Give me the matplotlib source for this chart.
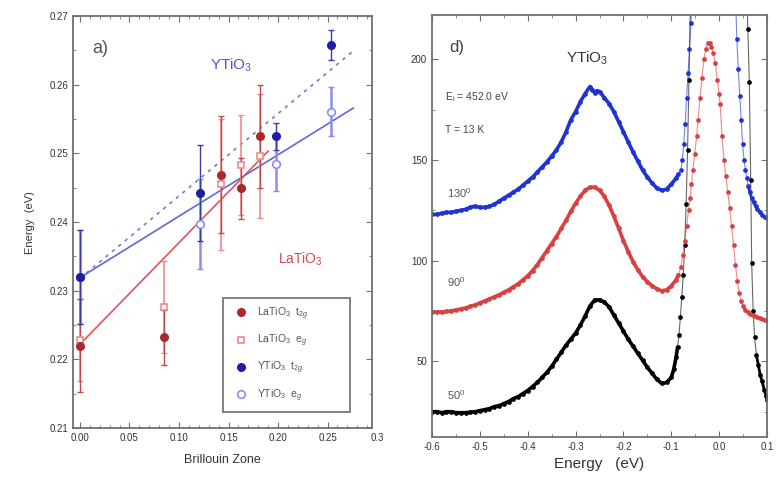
import numpy as np
import matplotlib.pyplot as plt
from matplotlib.ticker import MultipleLocator
from matplotlib.lines import Line2D

plt.rcParams['font.family'] = ['Liberation Sans', 'DejaVu Sans']
plt.rcParams['mathtext.fontset'] = 'custom'
plt.rcParams['mathtext.rm'] = 'Liberation Sans'
plt.rcParams['mathtext.it'] = 'Liberation Sans:italic'

# ---- a) dispersion vs Brillouin zone ----
la_x = [0.0, 0.085, 0.142, 0.163, 0.182]
la_t2g = [0.2220, 0.2232, 0.2469, 0.2449, 0.2525]
la_t2g_err = [0.0068, 0.0040, 0.0085, 0.0045, 0.0075]
la_eg = [0.2228, 0.2276, 0.2455, 0.2483, 0.2496]
la_eg_err = [0.0060, 0.0067, 0.0095, 0.0073, 0.0090]

y_x = [0.0, 0.121, 0.198, 0.2535]
y_t2g = [0.2320, 0.2442, 0.2525, 0.2658]
y_t2g_err = [0.0068, 0.0070, 0.0020, 0.0022]
y_eg = [0.2320, 0.2397, 0.2485, 0.2561]
y_eg_err = [0.0068, 0.0065, 0.0040, 0.0035]

# linear fits (x range, intercept, slope)
la_fit = (0.0, 0.19, 0.2222, 0.148)
y_eg_fit = (0.0, 0.276, 0.2319, 0.0895)
y_t2g_fit = (0.0, 0.276, 0.2318, 0.120)

# ---- d) RIXS spectra ----
e_50 = [-0.60, -0.59, -0.58, -0.57, -0.56, -0.55, -0.54, -0.53, -0.52, -0.51,
        -0.50, -0.49, -0.48, -0.47, -0.46, -0.45, -0.44, -0.43, -0.42, -0.41,
        -0.40, -0.39, -0.38, -0.37, -0.36, -0.35, -0.34, -0.33, -0.32, -0.31,
        -0.30, -0.29, -0.28, -0.27, -0.26, -0.25, -0.24, -0.23, -0.22, -0.21,
        -0.20, -0.19, -0.18, -0.17, -0.16, -0.15, -0.14, -0.13, -0.12, -0.11,
        -0.10, -0.095, -0.09, -0.087, -0.084, -0.081, -0.078, -0.075, -0.072,
        -0.069, -0.066, -0.063, -0.060,
        0.057, 0.060, 0.063, 0.066, 0.068, 0.071, 0.074, 0.078, 0.082, 0.086,
        0.090, 0.094, 0.098, 0.100]
i_50 = [25, 25, 24.5, 25, 25, 24.5, 24.5, 24.5, 24.7, 25,
        25.5, 26, 26.5, 27.5, 28, 29, 30, 31.5, 32.5, 34,
        35.5, 37.5, 39.5, 42, 44.5, 47.5, 51, 54.5, 58, 61,
        64, 68, 72.5, 77.5, 80.5, 80.5, 79.5, 77, 73, 69,
        65, 61, 57.5, 54, 50.5, 47, 44, 41, 39, 39.5,
        42, 46, 52, 57, 63, 72, 82, 93, 108,
        128, 155, 190, 230,
        240, 215, 189, 140, 99, 75, 62, 53, 48, 43,
        40, 36, 33, 31]

e_90 = [-0.60, -0.59, -0.58, -0.57, -0.56, -0.55, -0.54, -0.53, -0.52, -0.51,
        -0.50, -0.49, -0.48, -0.47, -0.46, -0.45, -0.44, -0.43, -0.42, -0.41,
        -0.40, -0.39, -0.38, -0.37, -0.36, -0.35, -0.34, -0.33, -0.32, -0.31,
        -0.30, -0.29, -0.28, -0.27, -0.26, -0.25, -0.24, -0.23, -0.22, -0.21,
        -0.20, -0.19, -0.18, -0.17, -0.16, -0.15, -0.14, -0.13, -0.12, -0.11,
        -0.10, -0.09, -0.085, -0.080, -0.076, -0.072, -0.068, -0.064, -0.061,
        -0.058, -0.055, -0.051, -0.047, -0.044, -0.040, -0.036, -0.032, -0.028,
        -0.024, -0.020, -0.016, -0.012, -0.008, -0.004, 0.000, 0.002, 0.006,
        0.010, 0.014, 0.018, 0.022, 0.026, 0.030, 0.034, 0.038, 0.042, 0.046,
        0.050, 0.055, 0.060, 0.065, 0.070, 0.075, 0.080, 0.085, 0.090, 0.095,
        0.100]
i_90 = [74.5, 74.5, 74.5, 74.8, 75, 75.5, 76, 76.5, 77.3, 78,
        79, 80, 81, 82, 83, 84.3, 85.5, 87, 88.5, 90.5,
        92.5, 95, 98, 101.5, 105, 108.5, 112, 116, 120, 124.5,
        128.5, 132, 135, 136.5, 136.5, 135, 132, 127.5, 122, 116,
        110, 104.5, 99.5, 95.5, 92, 89.5, 87.5, 86, 85, 85.5,
        87.5, 90.5, 93, 97, 103, 110, 117, 125, 131,
        138, 145, 153, 162, 170, 181, 191, 200, 205,
        208, 208, 206, 203, 198, 190, 183, 178, 162,
        150, 142, 134, 126, 117, 108, 98, 90, 84, 80,
        77.5, 75.5, 74.5, 73.5, 73, 72.5, 72, 71.5, 71, 70.5,
        70.5]

e_130 = [-0.60, -0.59, -0.58, -0.57, -0.56, -0.55, -0.54, -0.53, -0.52, -0.51,
         -0.50, -0.49, -0.48, -0.47, -0.46, -0.45, -0.44, -0.43, -0.42, -0.41,
         -0.40, -0.39, -0.38, -0.37, -0.36, -0.35, -0.34, -0.33, -0.32, -0.31,
         -0.30, -0.29, -0.28, -0.27, -0.265, -0.26, -0.255, -0.25, -0.24, -0.23,
         -0.22, -0.21, -0.20, -0.19, -0.18, -0.17, -0.16, -0.15, -0.14, -0.13,
         -0.12, -0.11, -0.10, -0.09, -0.085, -0.080, -0.077, -0.074, -0.071,
         -0.068, -0.065, -0.062, -0.059, -0.056,
         0.034, 0.037, 0.040, 0.043, 0.046, 0.049, 0.052, 0.055, 0.058, 0.061,
         0.064, 0.068, 0.072, 0.076, 0.080, 0.085, 0.090, 0.095, 0.100]
i_130 = [123, 123, 123.5, 124, 124, 124.5, 125, 125.5, 126.5, 127,
         126.5, 126.5, 127, 128, 129.5, 131, 132.5, 134, 135.5, 137.5,
         139.5, 141.5, 144, 146.5, 149, 152, 155, 159, 164, 170,
         174, 179, 183, 186.5, 185, 183.5, 184.5, 184, 181, 178,
         174, 169, 164, 159, 154, 149.5, 145, 141.5, 138.5, 136,
         135, 135.5, 138, 141, 143, 145, 150, 158, 168,
         181, 193, 205, 218, 232,
         232, 210, 195, 182, 170, 158, 150, 145, 141, 137,
         134, 131, 129, 127, 125.5, 124, 122.5, 121.5, 121]

fig = plt.figure(figsize=(7.79, 4.87), dpi=100)
ax1 = fig.add_axes([0.0937, 0.121, 0.384, 0.846])
ax2 = fig.add_axes([0.5546, 0.103, 0.430, 0.866])

spine_col = '#707070'
for ax in (ax1, ax2):
    for s in ax.spines.values():
        s.set_color(spine_col)
        s.set_linewidth(1.3)
    ax.tick_params(which='both', direction='in', top=True, right=True,
                   color=spine_col, labelsize=7, labelcolor='#333333')
    ax.tick_params(which='major', length=4)
    ax.tick_params(which='minor', length=2)

# ---- left panel ----
red_dark = '#a82a2a'
red_light = '#f08a8a'
blue_dark = '#1e1ea0'
blue_light = '#8c8cf2'

xs = np.array(la_fit[:2])
ax1.plot(xs, la_fit[2] + la_fit[3] * xs, color='#e05555', lw=1.2, zorder=2)
xs = np.array(y_eg_fit[:2])
ax1.plot(xs, y_eg_fit[2] + y_eg_fit[3] * xs, color='#5a6ad8', lw=1.2, zorder=2)
xs = np.array(y_t2g_fit[:2])
ax1.plot(xs, y_t2g_fit[2] + y_t2g_fit[3] * xs, color='#6a7ae0', lw=1.2,
         ls=(0, (2, 3)), zorder=2)

ax1.errorbar(la_x, la_eg, yerr=la_eg_err, fmt='none', ecolor=red_light,
             elinewidth=1.2, capsize=2, zorder=3)
ax1.errorbar(y_x, y_eg, yerr=y_eg_err, fmt='none', ecolor=blue_light,
             elinewidth=1.8, capsize=2, zorder=3)
ax1.errorbar(la_x, la_t2g, yerr=la_t2g_err, fmt='none', ecolor='#c04848',
             elinewidth=1.0, capsize=2, zorder=4)
ax1.errorbar(y_x, y_t2g, yerr=y_t2g_err, fmt='none', ecolor='#3a3ab0',
             elinewidth=1.0, capsize=2, zorder=4)

ax1.plot(la_x, la_eg, ls='none', marker='s', ms=4.5, mfc='white',
         mec=red_light, mew=1.2, zorder=5)
ax1.plot(y_x, y_eg, ls='none', marker='o', ms=5.5, mfc='white',
         mec=blue_light, mew=1.2, zorder=5)
ax1.plot(la_x, la_t2g, ls='none', marker='o', ms=5.5, color=red_dark, zorder=6)
ax1.plot(y_x, y_t2g, ls='none', marker='o', ms=5.5, color=blue_dark, zorder=6)

ax1.set_xlim(-0.007, 0.295)
ax1.set_ylim(0.21, 0.27)
ax1.xaxis.set_minor_locator(MultipleLocator(0.01))
ax1.yaxis.set_major_locator(MultipleLocator(0.01))
ax1.yaxis.set_minor_locator(MultipleLocator(0.005))
ax1.set_xticks([0.0, 0.05, 0.10, 0.15, 0.20, 0.25])
ax1.set_xticklabels(['0.00', '0.05', '0.10', '0.15', '0.20', '0.25'])
ax1.text(0.30, -0.012, '0.3', transform=ax1.get_xaxis_transform(),
         ha='center', va='top', fontsize=7, color='#333333', clip_on=False)
ax1.set_xlabel('Brillouin Zone', fontsize=9, color='#333333', labelpad=8)
ax1.set_ylabel('Energy  (eV)', fontsize=8, color='#333333', labelpad=10)

ax1.text(0.09, 0.922, 'a)', transform=ax1.transAxes, fontsize=13,
         color='#555555', ha='center', va='center')
ax1.text(0.528, 0.881, r'YTiO$_3$', transform=ax1.transAxes, fontsize=11,
         color='#4a58d0', ha='center', va='center')
ax1.text(0.759, 0.410, r'LaTiO$_3$', transform=ax1.transAxes, fontsize=10,
         color='#d84a4a', ha='center', va='center')

handles = [
    Line2D([], [], ls='none', marker='o', ms=5.5, color=red_dark),
    Line2D([], [], ls='none', marker='s', ms=4.5, mfc='white', mec=red_light, mew=1.2),
    Line2D([], [], ls='none', marker='o', ms=5.5, color=blue_dark),
    Line2D([], [], ls='none', marker='o', ms=5.5, mfc='white', mec=blue_light, mew=1.2),
]
labels = [r'LaTiO$_3$  t$_{2g}$', r'LaTiO$_3$  e$_g$',
          r'YTiO$_3$  t$_{2g}$', r'YTiO$_3$  e$_g$']
leg = ax1.legend(handles, labels, loc='lower left',
                 bbox_to_anchor=(0.50, 0.04, 0.426, 0.26), mode='expand',
                 borderaxespad=0, fontsize=7.5, labelspacing=1.05,
                 handletextpad=0.6, borderpad=0.75, fancybox=False,
                 framealpha=1)
leg.get_frame().set_edgecolor('#777777')
leg.get_frame().set_linewidth(1.3)
for t in leg.get_texts():
    t.set_color('#555555')

# ---- right panel ----
# dense points along the broad feature read as a thick band, the steep
# elastic flanks show the separate measured points
curves = ((e_50, i_50, 'black', 0.075),
          (e_90, i_90, '#d94040', 0.05),
          (e_130, i_130, '#1f33d4', 0.06))
for e, i, col, tail_start in curves:
    e = np.array(e)
    i = np.array(i)
    ax2.plot(e, i, color=col, lw=0.8, alpha=0.6)
    ax2.plot(e, i, ls='none', marker='o', ms=3.4, mew=0, color=col)
    low = e <= -0.085
    ax2.plot(e[low], i[low], color=col, lw=2.6, solid_capstyle='round')
    tail = e >= tail_start
    ax2.plot(e[tail], i[tail], color=col, lw=2.0, solid_capstyle='round')

ax2.set_xlim(-0.6, 0.1)
ax2.set_ylim(12.5, 222)
ax2.xaxis.set_minor_locator(MultipleLocator(0.05))
ax2.yaxis.set_major_locator(MultipleLocator(50))
ax2.yaxis.set_minor_locator(MultipleLocator(25))
ax2.set_xticks(np.round(np.arange(-0.6, 0.11, 0.1), 1))
ax2.set_xticklabels(['-0.6', '-0.5', '-0.4', '-0.3', '-0.2', '-0.1', '0.0', '0.1'])
ax2.set_xlabel('Energy   (eV)', fontsize=11, color='#333333', labelpad=4)

ax2.text(0.075, 0.924, 'd)', transform=ax2.transAxes, fontsize=12,
         color='#444444', ha='center', va='center')
ax2.text(0.463, 0.898, r'YTiO$_3$', transform=ax2.transAxes, fontsize=11,
         color='#333333', ha='center', va='center')
ax2.text(0.039, 0.806, r'E$_\mathrm{i}$ = 452.0 eV', transform=ax2.transAxes,
         fontsize=7.5, color='#444444', ha='left', va='center')
ax2.text(0.039, 0.727, 'T = 13 K', transform=ax2.transAxes,
         fontsize=7.5, color='#444444', ha='left', va='center')
ax2.text(0.045, 0.578, r'130$^0$', transform=ax2.transAxes,
         fontsize=8, color='#555555', ha='left', va='center')
ax2.text(0.045, 0.367, r'90$^0$', transform=ax2.transAxes,
         fontsize=8, color='#555555', ha='left', va='center')
ax2.text(0.045, 0.100, r'50$^0$', transform=ax2.transAxes,
         fontsize=8, color='#555555', ha='left', va='center')

fig.savefig('out.png', dpi=100)
